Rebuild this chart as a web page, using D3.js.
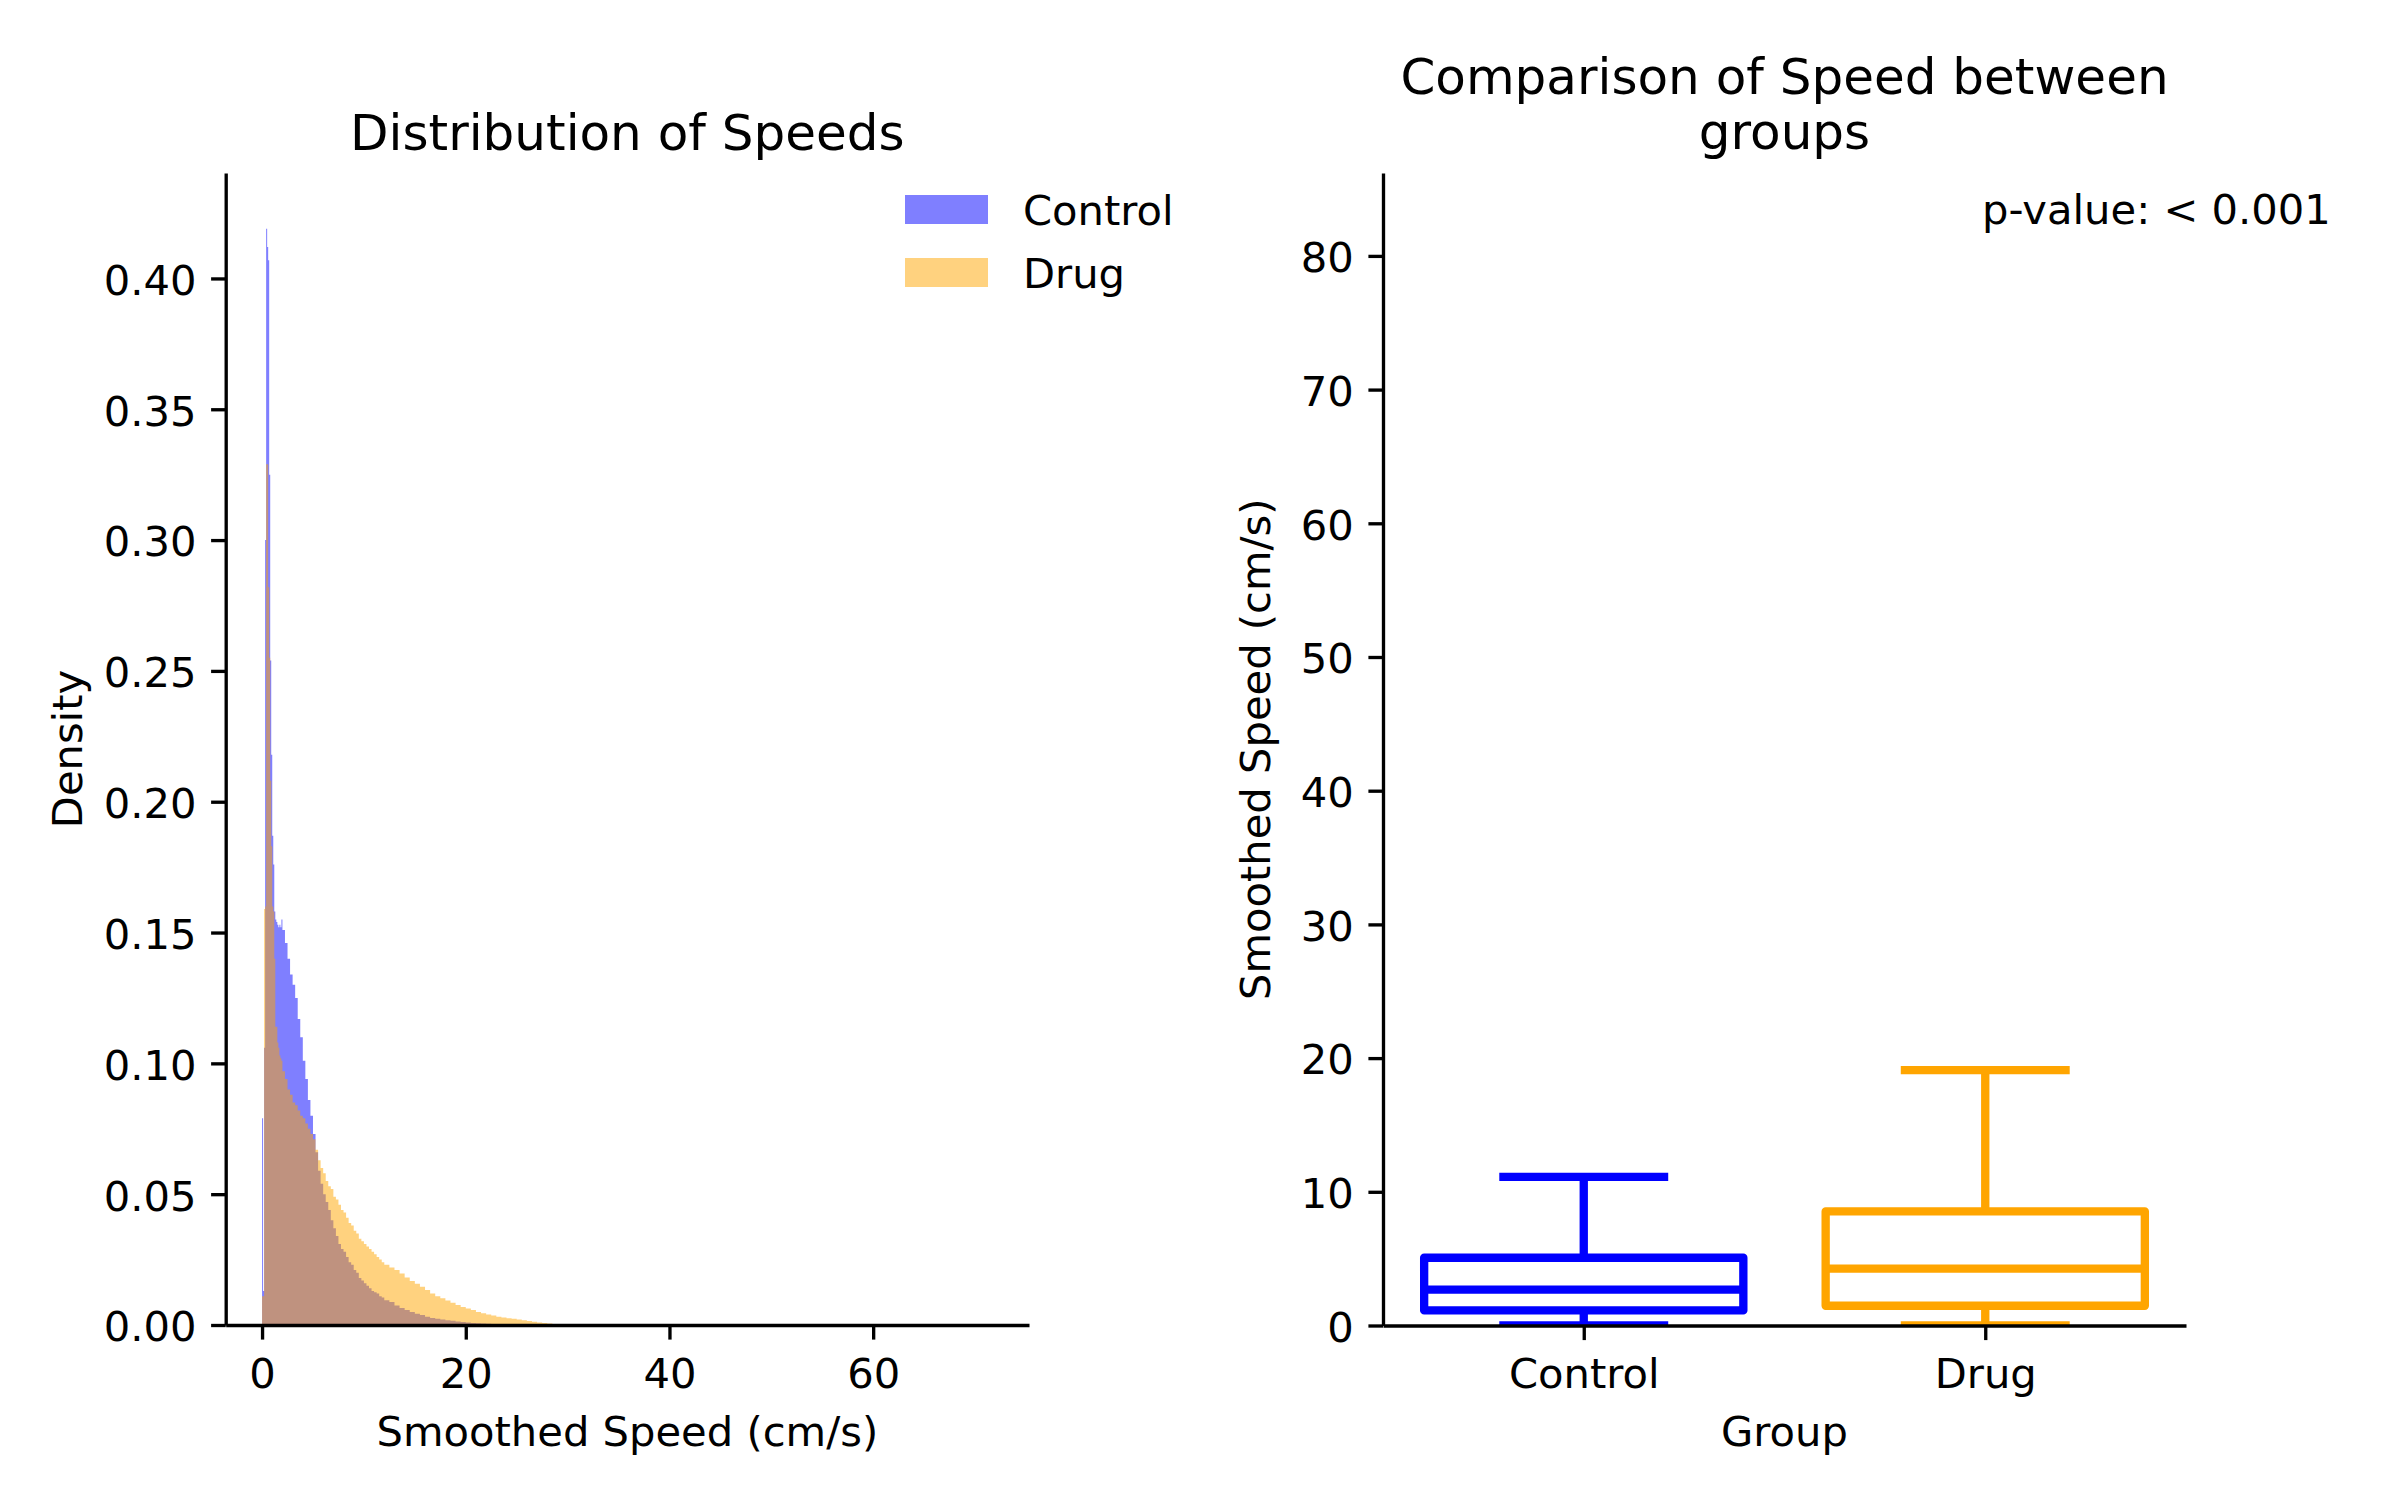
<!DOCTYPE html>
<html>
<head>
<meta charset="utf-8">
<script src="https://cdn.jsdelivr.net/npm/d3@7"></script>
<style>
  body { margin: 0; background: #fff; }
  svg { display: block; }
  text { font-family: "DejaVu Sans", sans-serif; fill: #000; }
</style>
</head>
<body>
<svg id="chart" width="2400" height="1500"></svg>
<script>
// ---------------- DATA ----------------
// Histogram bin edges (cm/s): fine bins near zero, coarser further out
const binEdges = [
  ...d3.range(0, 2, 0.1),
  ...d3.range(2, 12, 0.25),
  ...d3.range(12, 30, 0.5),
  30
];
// Density per bin, Control group
const controlDensity = [
  0.079, 0.013, 0.106, 0.300, 0.419, 0.412, 0.407, 0.325, 0.254, 0.218,
  0.187, 0.176, 0.158, 0.155, 0.154, 0.153, 0.152, 0.153, 0.152, 0.155,
  0.151, 0.146, 0.140, 0.134, 0.130, 0.125, 0.117, 0.110, 0.101, 0.094,
  0.086, 0.080, 0.073, 0.066, 0.059, 0.054, 0.050, 0.047, 0.044, 0.040,
  0.037, 0.034, 0.031, 0.029, 0.028, 0.026, 0.024, 0.023, 0.021, 0.020,
  0.018, 0.017, 0.016, 0.015, 0.014, 0.013, 0.0125, 0.012, 0.011, 0.0105,
  0.0095, 0.0088, 0.0075, 0.0065, 0.0057, 0.0050, 0.0043, 0.0038, 0.0032, 0.0027,
  0.0024, 0.0021, 0.0018, 0.0016, 0.0013, 0.0011, 0.0010, 0.0008, 0.0007, 0.0006,
  0.0005, 0.0004, 0.0003, 0.0002, 0.0002, 0.0001, 0, 0, 0, 0,
  0, 0, 0, 0, 0, 0
];
// Density per bin, Drug group
const drugDensity = [
  0.011, 0.011, 0.159, 0.160, 0.329, 0.329, 0.282, 0.255, 0.208, 0.183,
  0.160, 0.158, 0.140, 0.114, 0.114, 0.108, 0.106, 0.103, 0.102, 0.101,
  0.097, 0.094, 0.090, 0.088, 0.085, 0.084, 0.082, 0.080, 0.079, 0.077,
  0.075, 0.073, 0.071, 0.067, 0.063, 0.060, 0.058, 0.055, 0.053, 0.052,
  0.049, 0.048, 0.046, 0.044, 0.043, 0.041, 0.039, 0.038, 0.036, 0.035,
  0.033, 0.032, 0.031, 0.030, 0.029, 0.028, 0.027, 0.026, 0.025, 0.024,
  0.0230, 0.0220, 0.0210, 0.0197, 0.0182, 0.0168, 0.0158, 0.0146, 0.0134, 0.0120,
  0.0110, 0.0102, 0.0094, 0.0085, 0.0076, 0.0069, 0.0063, 0.0057, 0.0050, 0.0045,
  0.0040, 0.0036, 0.0032, 0.0029, 0.0026, 0.0024, 0.0021, 0.0018, 0.0015, 0.0012,
  0.0010, 0.0008, 0.0006, 0.0004, 0.0002, 0.0001
];
const histXTicks = [0, 20, 40, 60];
const histYTicks = [0, 0.05, 0.10, 0.15, 0.20, 0.25, 0.30, 0.35, 0.40];

// Boxplot summary statistics (cm/s)
const groups       = ["Control", "Drug"];
const whiskerLow   = [0.0, 0.0];
const quartile1    = [1.13, 1.48];
const medians      = [2.68, 4.26];
const quartile3    = [5.07, 8.53];
const whiskerHigh  = [11.12, 19.1];
const boxYTicks    = [0, 10, 20, 30, 40, 50, 60, 70, 80];
const pValueText   = "p-value: < 0.001";

// ---------------- LAYOUT ----------------
const W = 2400, H = 1500;
const FS = 41.67, TFS = 50, LW = 3.33, TL = 14.6, PAD = 14.6;
const groupColors = { Control: "#0000ff", Drug: "#ffa500" };

const svg = d3.select("#chart");
svg.append("rect").attr("width", W).attr("height", H).attr("fill", "#fff");

const L = { x0: 225.7, x1: 1029, y0: 173, y1: 1325 };
const R = { x0: 1383, x1: 2186, y0: 173, y1: 1325.5 };

function styleAxis(g, isX) {
  g.select(".domain").attr("stroke", "#000").attr("stroke-width", LW);
  g.selectAll(".tick line").attr("stroke", "#000").attr("stroke-width", LW);
  g.selectAll(".tick text")
    .attr("font-size", FS)
    .attr("font-family", "DejaVu Sans")
    .attr("fill", "#000");
  if (isX) g.selectAll(".tick text").attr("y", TL + PAD).attr("dy", "0.81em");
  else g.selectAll(".tick text").attr("x", -(TL + PAD)).attr("dy", "0.38em");
}

// ---------------- LEFT: HISTOGRAM ----------------
const xH = d3.scaleLinear().domain([-3.57, 75.3]).range([L.x0, L.x1]);
const yH = d3.scaleLinear().domain([0, 0.4403]).range([L.y1, L.y0]);

const histArea = d3.area()
  .x(d => xH(d[0]))
  .y0(yH(0))
  .y1(d => yH(d[1]))
  .curve(d3.curveStepAfter);

function histPoints(vals) {
  const pts = vals.map((v, i) => [binEdges[i], v]);
  pts.push([binEdges[vals.length], 0]);
  return pts;
}

const gH = svg.append("g");
gH.append("path").attr("d", histArea(histPoints(controlDensity)))
  .attr("fill", "#0000ff").attr("fill-opacity", 0.5);
gH.append("path").attr("d", histArea(histPoints(drugDensity)))
  .attr("fill", "#ffa500").attr("fill-opacity", 0.5);

const gHx = svg.append("g").attr("transform", `translate(0,${L.y1})`)
  .call(d3.axisBottom(xH).tickValues(histXTicks).tickFormat(d3.format("d"))
    .tickSize(TL).tickSizeOuter(0).tickPadding(PAD));
styleAxis(gHx, true);
const gHy = svg.append("g").attr("transform", `translate(${L.x0},0)`)
  .call(d3.axisLeft(yH).tickValues(histYTicks).tickFormat(d3.format(".2f"))
    .tickSize(TL).tickSizeOuter(0).tickPadding(PAD));
styleAxis(gHy, false);

svg.append("text").attr("x", (L.x0 + L.x1) / 2).attr("y", 149.5)
  .attr("text-anchor", "middle").attr("font-size", TFS).text("Distribution of Speeds");
svg.append("text").attr("x", (L.x0 + L.x1) / 2).attr("y", 1446)
  .attr("text-anchor", "middle").attr("font-size", FS).text("Smoothed Speed (cm/s)");
svg.append("text").attr("transform", `translate(82,${(L.y0 + L.y1) / 2}) rotate(-90)`)
  .attr("text-anchor", "middle").attr("font-size", FS).text("Density");

// Legend
const legendItems = [
  { name: "Control", color: "#0000ff", cy: 209.5 },
  { name: "Drug", color: "#ffa500", cy: 272.5 }
];
const lg = svg.append("g");
legendItems.forEach(it => {
  lg.append("rect").attr("x", 905).attr("y", it.cy - 14.5).attr("width", 83).attr("height", 29)
    .attr("fill", it.color).attr("fill-opacity", 0.5);
  lg.append("text").attr("x", 1023).attr("y", it.cy + 15.2)
    .attr("font-size", FS).text(it.name);
});

// ---------------- RIGHT: BOXPLOT ----------------
const xB = d3.scalePoint().domain(groups).range([R.x0, R.x1]).padding(0.5);
const yB = d3.scaleLinear().domain([0, 86.2]).range([R.y1, R.y0]);
const step = xB.step();
const boxW = 0.795 * step, capW = 0.4 * step, BLW = 8.33;

svg.append("defs").append("clipPath").attr("id", "clipR")
  .append("rect").attr("x", R.x0).attr("y", R.y0).attr("width", R.x1 - R.x0).attr("height", R.y1 - R.y0);

const gB = svg.append("g").attr("clip-path", "url(#clipR)");
groups.forEach((g, i) => {
  const cx = xB(g), col = groupColors[g];
  const gg = gB.append("g").attr("stroke", col).attr("stroke-width", BLW).attr("fill", "none");
  // whiskers
  gg.append("line").attr("x1", cx).attr("x2", cx).attr("y1", yB(quartile3[i])).attr("y2", yB(whiskerHigh[i]));
  gg.append("line").attr("x1", cx).attr("x2", cx).attr("y1", yB(quartile1[i])).attr("y2", yB(whiskerLow[i]));
  // caps
  gg.append("line").attr("x1", cx - capW / 2).attr("x2", cx + capW / 2)
    .attr("y1", yB(whiskerHigh[i])).attr("y2", yB(whiskerHigh[i])).attr("stroke-linecap", "square");
  gg.append("line").attr("x1", cx - capW / 2).attr("x2", cx + capW / 2)
    .attr("y1", yB(whiskerLow[i])).attr("y2", yB(whiskerLow[i])).attr("stroke-linecap", "square");
  // box
  gg.append("rect").attr("x", cx - boxW / 2).attr("y", yB(quartile3[i]))
    .attr("width", boxW).attr("height", yB(quartile1[i]) - yB(quartile3[i]))
    .attr("stroke-linejoin", "round");
  // median
  gg.append("line").attr("x1", cx - boxW / 2).attr("x2", cx + boxW / 2)
    .attr("y1", yB(medians[i])).attr("y2", yB(medians[i]));
});

const gBx = svg.append("g").attr("transform", `translate(0,${R.y1})`)
  .call(d3.axisBottom(xB).tickSize(TL).tickSizeOuter(0).tickPadding(PAD));
styleAxis(gBx, true);
const gBy = svg.append("g").attr("transform", `translate(${R.x0},0)`)
  .call(d3.axisLeft(yB).tickValues(boxYTicks).tickFormat(d3.format("d"))
    .tickSize(TL).tickSizeOuter(0).tickPadding(PAD));
styleAxis(gBy, false);

const rcx = (R.x0 + R.x1) / 2;
svg.append("text").attr("x", rcx).attr("y", 93.5).attr("text-anchor", "middle")
  .attr("font-size", TFS).text("Comparison of Speed between");
svg.append("text").attr("x", rcx).attr("y", 148.5).attr("text-anchor", "middle")
  .attr("font-size", TFS).text("groups");
svg.append("text").attr("x", rcx).attr("y", 1446).attr("text-anchor", "middle")
  .attr("font-size", FS).text("Group");
svg.append("text").attr("transform", `translate(1270,${(R.y0 + R.y1) / 2}) rotate(-90)`)
  .attr("text-anchor", "middle").attr("font-size", FS).text("Smoothed Speed (cm/s)");
svg.append("text").attr("x", 1982).attr("y", 224).attr("font-size", FS).text(pValueText);
</script>
</body>
</html>
